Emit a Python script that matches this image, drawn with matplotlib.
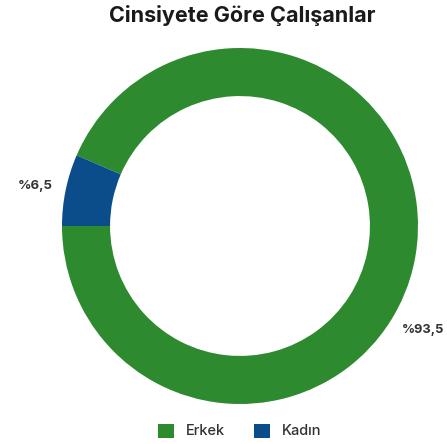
import matplotlib
matplotlib.use("Agg")
import matplotlib.pyplot as plt
from matplotlib.patches import Patch

categories = ["Erkek", "Kadın"]
values = [93.5, 6.5]
labels = ["%93,5", "%6,5"]
colors = ["#2e8a2f", "#0b4c8a"]
title = "Cinsiyete Göre Çalışanlar"

plt.rcParams['font.family'] = ['Inter', 'DejaVu Sans']

fig = plt.figure(figsize=(4.47, 4.44), dpi=100)
cx, cy, r = 240, 226, 178
ax = fig.add_axes([(cx - r) / 447, (444 - cy - r) / 444, 2 * r / 447, 2 * r / 444])
wedges, _ = ax.pie(values, colors=colors, startangle=180, counterclock=True,
                   radius=1.0, wedgeprops=dict(width=0.27, edgecolor='none'))
ax.set_xlim(-1, 1)
ax.set_ylim(-1, 1)
ax.set_aspect('auto')
ax.axis('off')

ax.text(-1.15, 0.225, labels[1], ha='center', va='center', fontsize=9.5,
        fontweight='bold', color='#333333')
ax.text(1.03, -0.584, labels[0], ha='center', va='center', fontsize=9.3,
        fontweight='bold', color='#333333')

fig.text(242 / 447, 1 - 16 / 444, title, ha='center', va='center', fontsize=15.5,
         fontweight='bold', color='#1a1a1a')

handles = [Patch(facecolor=c, edgecolor='none') for c in colors]
fig.legend(handles, categories, loc='center', bbox_to_anchor=(240 / 447, 1 - 431 / 444),
           ncol=2, frameon=False, fontsize=10.5, handlelength=1.1, handleheight=1.1,
           columnspacing=2.0, handletextpad=0.8, labelcolor='#333333',
           prop=dict(family=['Inter', 'DejaVu Sans'], weight='medium', size=10.5))

fig.savefig("out.png", dpi=100)
